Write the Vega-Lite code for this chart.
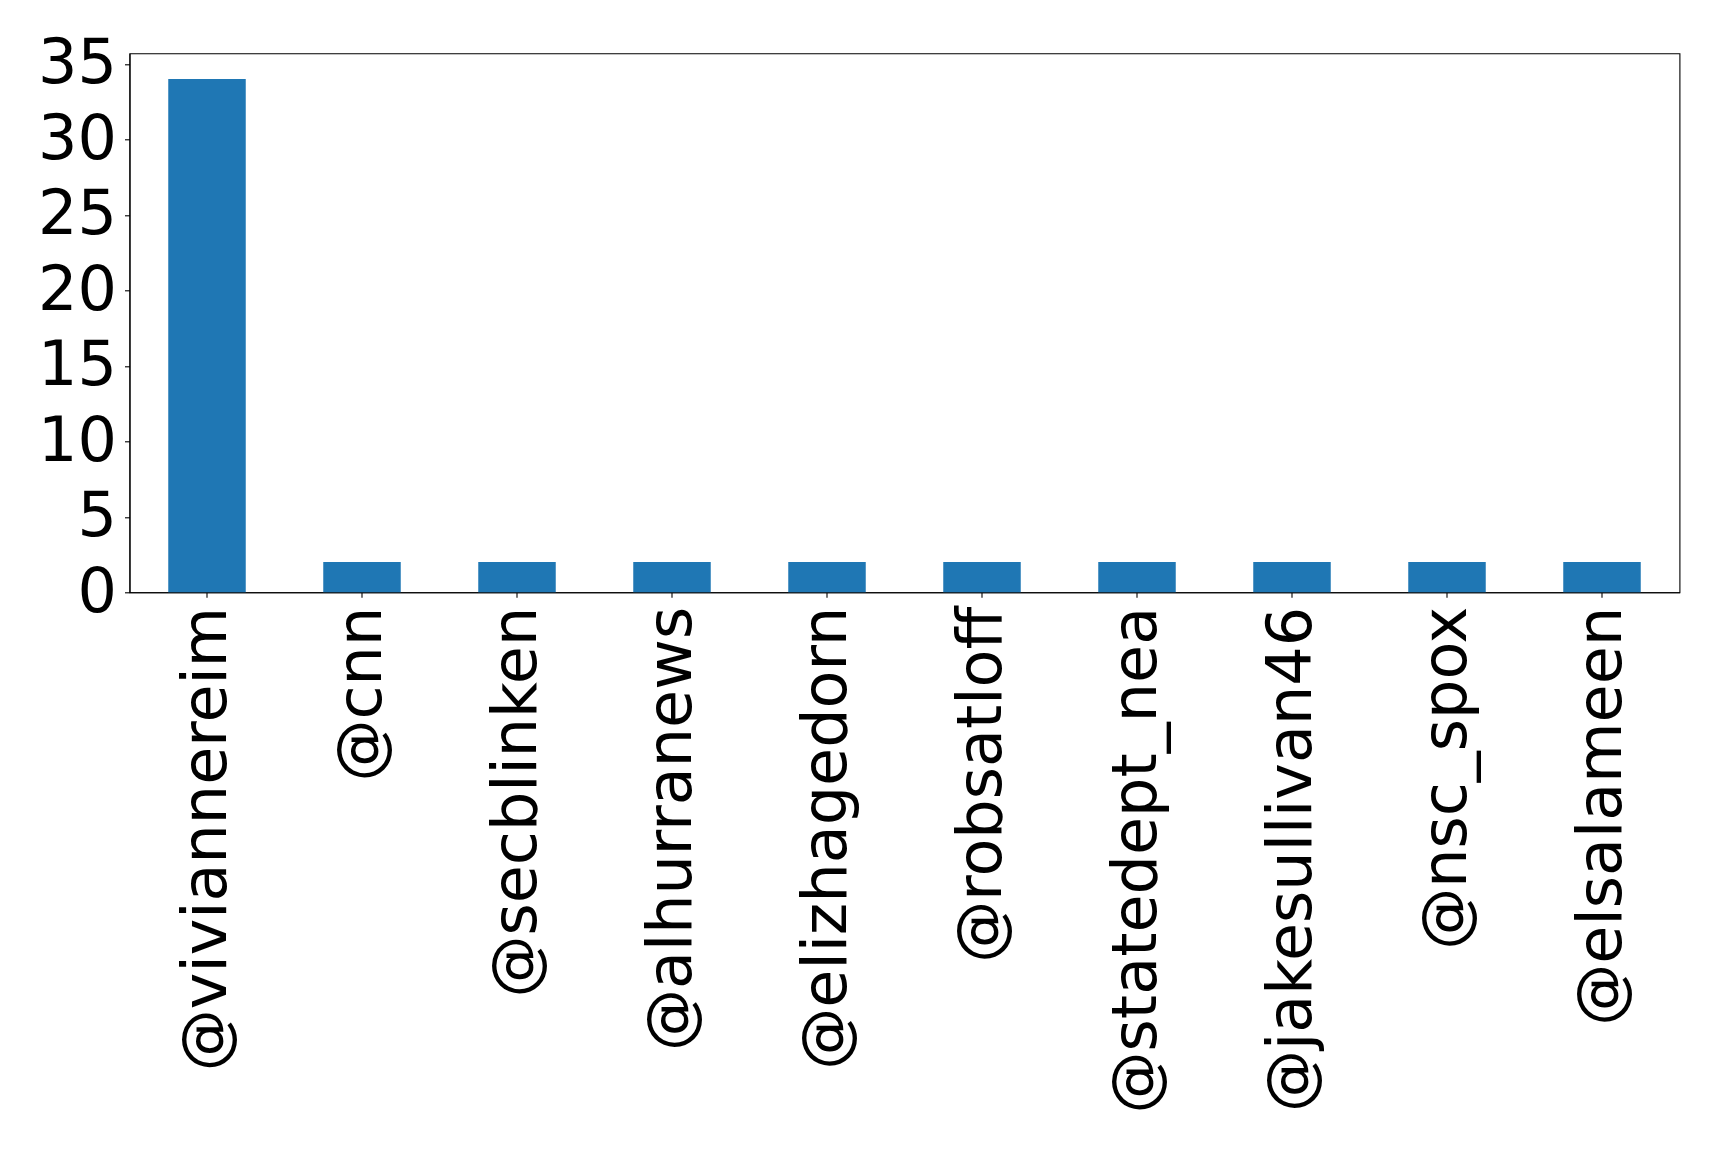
{
  "$schema": "https://vega.github.io/schema/vega-lite/v6.json",
  "autosize": {"type": "none"},
  "padding": {"left": 129.5, "top": 53.3, "right": 39.5, "bottom": 559.7},
  "width": 1550,
  "height": 539,
  "background": "white",
  "config": {
    "view": {"stroke": "black", "strokeWidth": 1.1},
    "font": "DejaVu Sans"
  },
  "data": {
    "values": [
      {"user": "@viviannereim", "count": 34},
      {"user": "@cnn", "count": 2},
      {"user": "@secblinken", "count": 2},
      {"user": "@alhurranews", "count": 2},
      {"user": "@elizhagedorn", "count": 2},
      {"user": "@robsatloff", "count": 2},
      {"user": "@statedept_nea", "count": 2},
      {"user": "@jakesullivan46", "count": 2},
      {"user": "@nsc_spox", "count": 2},
      {"user": "@elsalameen", "count": 2}
    ]
  },
  "mark": {"type": "bar", "color": "#1f77b4"},
  "encoding": {
    "x": {
      "field": "user",
      "type": "nominal",
      "sort": null,
      "scale": {"paddingInner": 0.5, "paddingOuter": 0.25},
      "axis": {
        "title": null,
        "labelAngle": -90,
        "labelAlign": "right",
        "labelBaseline": "middle",
        "labelFont": "DejaVu Sans",
        "labelFontSize": 62,
        "labelColor": "black",
        "labelPadding": 9,
        "tickSize": 5,
        "tickColor": "black",
        "tickWidth": 1.1,
        "domainColor": "black",
        "domainWidth": 1.1,
        "labelLimit": 0
      }
    },
    "y": {
      "field": "count",
      "type": "quantitative",
      "scale": {"domain": [0, 35.7], "nice": false, "zero": true},
      "axis": {
        "title": null,
        "values": [0, 5, 10, 15, 20, 25, 30, 35],
        "grid": false,
        "labelFont": "DejaVu Sans",
        "labelFontSize": 62,
        "labelColor": "black",
        "labelPadding": 8,
        "tickSize": 5,
        "tickColor": "black",
        "tickWidth": 1.1,
        "domainColor": "black",
        "domainWidth": 1.1,
        "labelFlush": false,
        "labelOverlap": false
      }
    }
  }
}
